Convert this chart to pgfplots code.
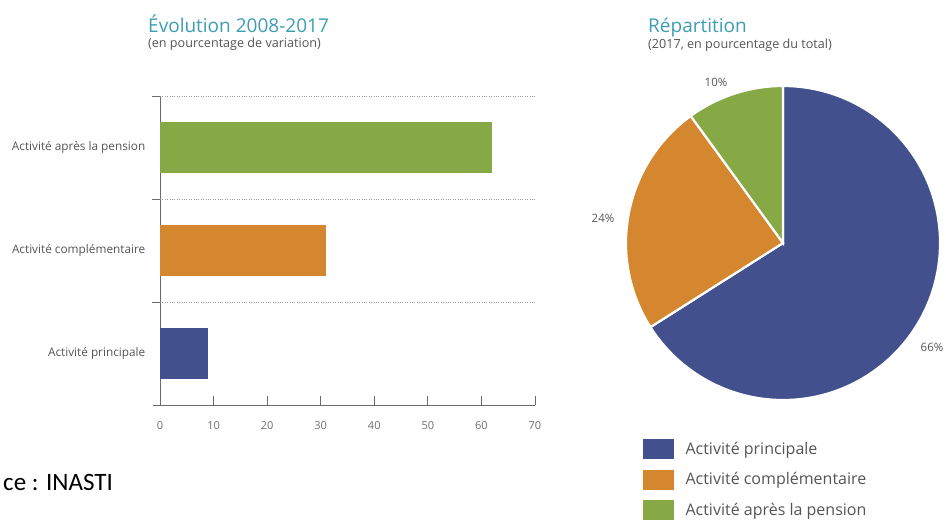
\documentclass[border=0pt]{standalone}
\usepackage{pgfplots}
\pgfplotsset{compat=1.18}
\usetikzlibrary{calc}
\usepackage{fontspec}
\setmainfont{Open Sans}
\newfontfamily\srcfont{Carlito}
\definecolor{cblue}{HTML}{43508E}
\definecolor{corange}{HTML}{D4872F}
\definecolor{cgreen}{HTML}{86A845}
\definecolor{cteal}{HTML}{3D9DB3}
\definecolor{ctext}{HTML}{555555}
\definecolor{caxis}{HTML}{6A6A6A}
\definecolor{cgrid}{HTML}{9A9A9A}

\begin{document}
\begin{tikzpicture}
\path[use as bounding box] (0pt,0pt) rectangle (946pt,-520pt);

% titles
\node[anchor=base west, inner sep=0pt, text=cteal, font=\fontsize{19}{21}\selectfont] at (148pt,-32pt) {Évolution 2008-2017};
\node[anchor=base west, inner sep=0pt, text=ctext, font=\fontsize{12.6}{14}\selectfont] at (148pt,-47pt) {(en pourcentage de variation)};
\node[anchor=base west, inner sep=0pt, text=cteal, font=\fontsize{19}{21}\selectfont] at (648pt,-32pt) {Répartition};
\node[anchor=base west, inner sep=0pt, text=ctext, font=\fontsize{12.6}{14}\selectfont] at (648pt,-48pt) {(2017, en pourcentage du total)};
\node[anchor=base east, inner sep=0pt, text=black, font=\srcfont\fontsize{25}{27}\selectfont] at (113pt,-490pt) {ce : INASTI};

% bar chart
\begin{axis}[
  at={(160pt,-405pt)}, anchor=south west,
  scale only axis, width=375pt, height=309pt,
  xmin=0, xmax=70, ymin=-0.5, ymax=2.5,
  xbar, bar width=51pt, bar shift=0pt,
  axis x line=bottom, axis y line=left,
  axis line style={-, draw=caxis, line width=0.9pt},
  x axis line style={shorten <=-7pt},
  xtick={0,10,...,70},
  xtick align=inside,
  major tick length=9pt,
  xtick style={draw=caxis, line width=0.8pt},
  ytick={0,1,2},
  yticklabels={Activité principale, Activité complémentaire, Activité après la pension},
  ytick style={draw=none},
  yticklabel style={font=\fontsize{11.8}{13}\selectfont, text=ctext, inner sep=0pt, xshift=-10pt},
  xticklabel style={font=\fontsize{11}{13}\selectfont, text=ctext!85, inner sep=0pt, yshift=-16pt},
  /pgf/number format/assume math mode=true,
  extra y ticks={0.5,1.5,2.5},
  extra y tick labels={},
  extra y tick style={grid=major, ytick style={draw=caxis, line width=0.8pt}, tick align=outside, major tick length=8pt},
  major grid style={draw=cgrid, dotted, line width=0.9pt},
  clip=false,
]
\addplot[fill=cblue, draw=none] coordinates {(9,0)};
\addplot[fill=corange, draw=none] coordinates {(31,1)};
\addplot[fill=cgreen, draw=none] coordinates {(62,2)};
\end{axis}

% pie chart
\def\vA{66}\def\vB{24}\def\vC{10}
\pgfmathsetmacro\aA{90-\vA*3.6}
\pgfmathsetmacro\aB{\aA-\vB*3.6}
\pgfmathsetmacro\aC{\aB-\vC*3.6}
\begin{axis}[
  at={(783pt,-243pt)}, anchor=origin,
  hide axis, scale only axis, width=320pt, height=320pt,
  xmin=-160, xmax=160, ymin=-160, ymax=160,
  clip=false,
  legend image code/.code={\fill[#1] (0pt,-9.5pt) rectangle (30pt,9.5pt);},
  legend style={at={(0.0625,-0.1125)}, anchor=north west, draw=none, fill=none,
    inner sep=0pt, row sep=11pt, column sep=12pt,
    font=\fontsize{16}{18}\selectfont, text=ctext,
    nodes={inner sep=0pt}},
  legend cell align=left,
]
\fill[cblue, draw=white, line width=2.2pt] (axis cs:0,0) -- (axis cs:0,157) arc[start angle=90, end angle=\aA, radius=157pt] -- cycle;
\fill[corange, draw=white, line width=2.2pt] (axis cs:0,0) -- ($(axis cs:0,0)+(\aA:157pt)$) arc[start angle=\aA, end angle=\aB, radius=157pt] -- cycle;
\fill[cgreen, draw=white, line width=2.2pt] (axis cs:0,0) -- ($(axis cs:0,0)+(\aB:157pt)$) arc[start angle=\aB, end angle=\aC, radius=157pt] -- cycle;
\node[text=ctext, font=\fontsize{11.5}{13}\selectfont] at (axis cs:-67,161) {10\%};
\node[text=ctext, font=\fontsize{11.5}{13}\selectfont] at (axis cs:-180,25) {24\%};
\node[text=ctext, font=\fontsize{11.5}{13}\selectfont] at (axis cs:149,-104) {66\%};
\addlegendimage{cblue}
\addlegendentry{Activité principale}
\addlegendimage{corange}
\addlegendentry{Activité complémentaire}
\addlegendimage{cgreen}
\addlegendentry{Activité après la pension}
\end{axis}
\end{tikzpicture}
\end{document}
